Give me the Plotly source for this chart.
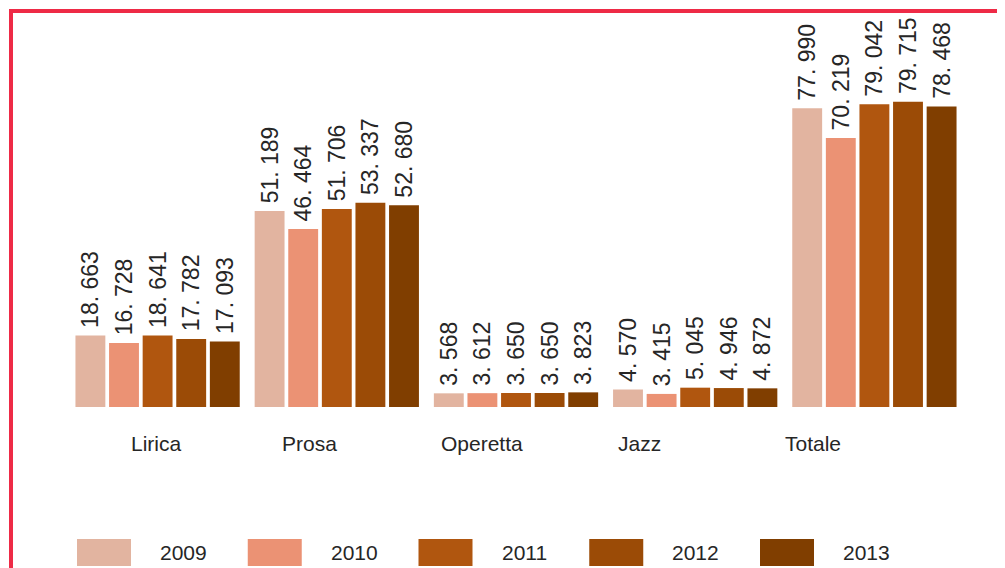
import plotly.graph_objects as go

categories = ["Lirica", "Prosa", "Operetta", "Jazz", "Totale"]
years = ["2009", "2010", "2011", "2012", "2013"]
values_2009 = [18663, 51189, 3568, 4570, 77990]
values_2010 = [16728, 46464, 3612, 3415, 70219]
values_2011 = [18641, 51706, 3650, 5045, 79042]
values_2012 = [17782, 53337, 3650, 4946, 79715]
values_2013 = [17093, 52680, 3823, 4872, 78468]
series = [values_2009, values_2010, values_2011, values_2012, values_2013]
colors = ["#e2b4a0", "#eb9274", "#b0560f", "#9b4b06", "#803e00"]

# horizontal offsets (px) of the category labels from their group centres, as in the source
label_shift = [-1, -27, -34.5, -56, -61]

FONT = "Liberation Sans, Arial, sans-serif"
TXT = "#262626"

def fmt(v):
    # leading thin space gives a little extra gap above the bar
    return "\u2009" + f"{v:,}".replace(",", ". ")

# page body has an 8px margin; reference coords are converted to figure coords
OFF = 8
W, H = 1005, 568
L, R = 68 - OFF, W - (964 - OFF)
T, B = 24 - OFF, H - (407 - OFF)
pw = W - L - R
ph = H - T - B

def xp(px):
    return (px - OFF - L) / pw

def yp(py):
    return (H - B - (py - OFF)) / ph

fig = go.Figure()
for yr, vals, col in zip(years, series, colors):
    fig.add_trace(go.Bar(
        x=categories, y=vals, name=yr,
        marker=dict(color=col, line=dict(width=0)),
        text=[fmt(v) for v in vals],
        textposition="outside", textangle=-90,
        constraintext="none", cliponaxis=False,
        textfont=dict(family=FONT, size=23, color=TXT),
        showlegend=False,
    ))

shapes = []
annotations = []
# red frame
shapes.append(dict(type="rect", xref="paper", yref="paper",
                   x0=xp(11), x1=xp(1030), y0=yp(600), y1=yp(11),
                   line=dict(color="#ee2a46", width=4), fillcolor="rgba(0,0,0,0)",
                   layer="above"))
shapes.append(dict(type="line", xref="paper", yref="paper",
                   x0=xp(9), x1=xp(1030), y0=yp(7.5), y1=yp(7.5),
                   line=dict(color="#f6c4cc", width=1)))

# category labels
for cat, sh in zip(categories, label_shift):
    annotations.append(dict(xref="x", yref="paper", x=cat, y=yp(443), xshift=sh,
                            text=cat, showarrow=False, xanchor="center", yanchor="middle",
                            font=dict(family=FONT, size=21, color=TXT)))

# legend built from the years/colors
leg_x0 = 77
leg_step = 170.75
for i, (yr, col) in enumerate(zip(years, colors)):
    bx = leg_x0 + i * leg_step
    shapes.append(dict(type="rect", xref="paper", yref="paper",
                       x0=xp(bx), x1=xp(bx + 54), y0=yp(566), y1=yp(539),
                       line=dict(width=0), fillcolor=col))
    annotations.append(dict(xref="paper", yref="paper", x=xp(bx + 81), y=yp(552.5),
                            text=yr, showarrow=False, xanchor="left", yanchor="middle",
                            font=dict(family=FONT, size=21, color=TXT)))

fig.update_layout(
    width=W, height=H,
    margin=dict(l=L, r=R, t=T, b=B, pad=0),
    paper_bgcolor="white", plot_bgcolor="white",
    barmode="group", bargap=0.0625, bargroupgap=0.111,
    xaxis=dict(showline=False, showgrid=False, zeroline=False, ticks="",
               showticklabels=False),
    yaxis=dict(range=[0, 100000], visible=False, showgrid=False, zeroline=False),
    shapes=shapes, annotations=annotations,
    showlegend=False,
)

fig.write_html("out.html")
